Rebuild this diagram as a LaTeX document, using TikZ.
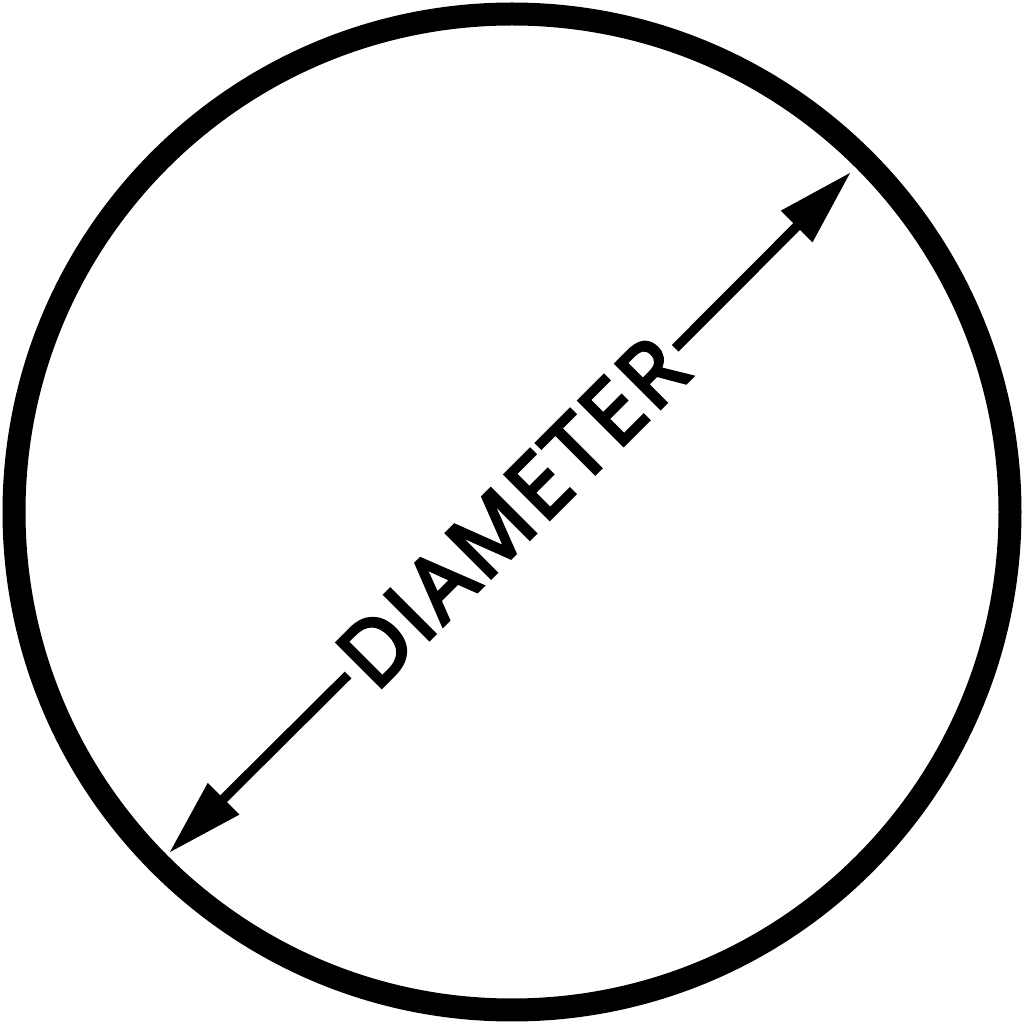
\documentclass[tikz,border=0pt]{standalone}
\usepackage{fontspec}
\setmainfont{Open Sans}
\newfontfamily\labelfont{Open Sans}[FakeBold=4, LetterSpace=4]
\usepackage{tikz}
\usetikzlibrary{positioning, arrows.meta}
\tikzset{
    >={Triangle[length=7.7mm, width=4.2mm]}, % makes the arrow heads big and sharp
    line cap=butt, % keeps the line ends flat
}

\begin{document}
\begin{tikzpicture}[
                                styleRim/.style={line width=2.3mm},
                                styleArrow/.style={->, line width=0.95mm},
                                styleLabel/.style={rotate=45, inner sep=0.6mm, font=\labelfont\fontsize{25}{30}\selectfont},
                            ]
                            \useasboundingbox (0,0) rectangle (10.24,10.24);
                            \coordinate (mid) at (5.12,5.12);
                            \coordinate (tipUp) at (8.51,8.52);
                            \coordinate (tipDown) at (1.69,1.71);
                            \draw[styleRim] (mid) circle (4.98);
                            \node[styleLabel] (dia) at (mid) {DIAMETER};
                            \draw[styleArrow] (dia) -- (tipUp);
                            \draw[styleArrow] (dia) -- (tipDown);
                        \end{tikzpicture}
\end{document}
